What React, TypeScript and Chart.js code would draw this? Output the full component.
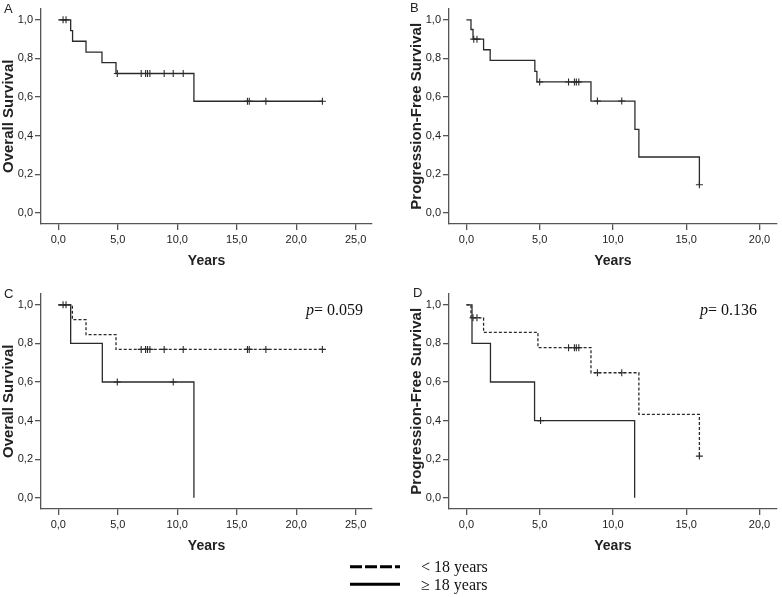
import React, { useEffect, useRef } from "react";
import { Chart, registerables } from "chart.js";
Chart.register(...registerables);

// ---- tick labels ----
const yTicks = [0, 0.2, 0.4, 0.6, 0.8, 1.0];
const xTicksOS = [0, 5, 10, 15, 20, 25];
const xTicksPFS = [0, 5, 10, 15, 20];

// ---- Panel A: overall survival (all patients) ----
const aTimes = [0, 1.04, 1.2, 2.33, 3.67, 4.85, 11.4, 22.2];
const aSurv = [1.0, 0.944, 0.889, 0.833, 0.778, 0.722, 0.578, 0.578];
const aCensor = [0.4, 0.65, 4.96, 6.97, 7.34, 7.5, 7.7, 8.9, 9.66, 10.5, 15.9, 16.05, 17.45, 22.2];

// ---- Panel B: progression-free survival (all patients) ----
const bTimes = [0, 0.31, 0.45, 1.17, 1.62, 4.67, 4.81, 8.5, 11.5, 11.77, 15.9];
const bSurv = [1.0, 0.95, 0.9, 0.845, 0.79, 0.733, 0.678, 0.579, 0.432, 0.289, 0.145];
const bCensor = [0.5, 0.72, 5.0, 6.97, 7.37, 7.5, 7.67, 8.94, 10.6, 15.9];

// ---- Panel C: overall survival by age ----
const cYoungTimes = [0, 1.18, 2.33, 4.85, 22.2];
const cYoungSurv = [1.0, 0.923, 0.846, 0.769, 0.769];
const cYoungCensor = [0.4, 0.65, 6.97, 7.34, 7.5, 7.7, 8.9, 10.5, 15.9, 16.05, 17.45, 22.2];
const cOldTimes = [0, 1.04, 3.7, 11.4];
const cOldSurv = [1.0, 0.8, 0.6, 0.0];
const cOldCensor = [4.96, 9.66];

// ---- Panel D: progression-free survival by age ----
const dYoungTimes = [0, 0.31, 1.17, 4.88, 8.5, 11.77, 15.9];
const dYoungSurv = [1.0, 0.933, 0.857, 0.778, 0.648, 0.432, 0.216];
const dYoungCensor = [0.45, 0.72, 6.97, 7.37, 7.5, 7.67, 8.94, 10.6, 15.9];
const dOldTimes = [0, 0.38, 1.64, 4.65, 11.48];
const dOldSurv = [1.0, 0.8, 0.6, 0.4, 0.0];
const dOldCensor = [5.06];

const legendLabels = ["< 18 years", "\u2265 18 years"];
const pValues = ["0.059", "0.136"];

const SANS = '"Liberation Sans", Arial, sans-serif';
const SERIF = '"Liberation Serif", "Times New Roman", serif';
const INK = "#2a2a2a";
const AXIS = "#555555";

type Curve = { times: number[]; surv: number[]; censor: number[]; dashed: boolean };

function survAt(c: Curve, t: number): number {
  let v = c.surv[0];
  for (let i = 0; i < c.times.length; i++) {
    if (c.times[i] <= t) v = c.surv[i];
  }
  return v;
}

const fmt = (v: number) => Number(v).toFixed(1).replace(".", ",");

type PanelProps = {
  left: number;
  top: number;
  width: number;
  height: number;
  rightPad: number;
  xMin: number;
  xMax: number;
  xTicks: number[];
  yTitle: string;
  curves: Curve[];
};

function Panel(p: PanelProps) {
  const ref = useRef<HTMLCanvasElement>(null);
  useEffect(() => {
    if (!ref.current) return;
    const datasets: any[] = [];
    p.curves.forEach((c) => {
      datasets.push({
        type: "line",
        data: c.times.map((t, i) => ({ x: t, y: c.surv[i] })),
        stepped: "before",
        borderColor: INK,
        borderWidth: 1.3,
        borderDash: c.dashed ? [3, 2] : [],
        pointRadius: 0,
        fill: false,
      });
      datasets.push({
        type: "line",
        showLine: false,
        data: c.censor.map((t) => ({ x: t, y: survAt(c, t) })),
        pointStyle: "cross",
        pointRadius: 3.5,
        pointBorderWidth: 1.1,
        pointBorderColor: INK,
        borderColor: INK,
        backgroundColor: INK,
      });
    });
    const chart = new Chart(ref.current, {
      type: "line",
      data: { datasets },
      options: {
        animation: false,
        responsive: false,
        devicePixelRatio: 1,
        layout: { padding: { top: 8, right: p.rightPad, left: 0, bottom: 0 } },
        plugins: { legend: { display: false }, tooltip: { enabled: false } },
        scales: {
          x: {
            type: "linear",
            min: p.xMin,
            max: p.xMax,
            afterBuildTicks: (a: any) => {
              a.ticks = p.xTicks.map((v) => ({ value: v }));
            },
            afterFit: (a: any) => {
              a.height = p.height - 8 - 216;
            },
            grid: { drawOnChartArea: false, tickLength: 6, color: AXIS, lineWidth: 1.3 },
            border: { color: AXIS, width: 1.3 },
            ticks: {
              callback: (v: any) => fmt(v),
              font: { family: SANS, size: 11 },
              color: "#222",
              padding: 3,
              maxRotation: 0,
              autoSkip: false,
            },
            title: {
              display: true,
              text: "Years",
              font: { family: SANS, size: 14, weight: "bold" },
              color: "#222",
              padding: 0,
            },
          },
          y: {
            type: "linear",
            min: -0.0584,
            max: 1.0584,
            afterBuildTicks: (a: any) => {
              a.ticks = yTicks.map((v) => ({ value: v }));
            },
            afterFit: (a: any) => {
              a.width = 41;
            },
            grid: { drawOnChartArea: false, tickLength: 6, color: AXIS, lineWidth: 1.3 },
            border: { color: AXIS, width: 1.3 },
            ticks: {
              callback: (v: any) => fmt(v),
              font: { family: SANS, size: 11 },
              color: "#222",
              padding: 2,
              autoSkip: false,
            },
            title: {
              display: true,
              text: p.yTitle,
              font: { family: SANS, size: 15, weight: "bold" },
              color: "#222",
              padding: 0,
            },
          },
        },
      } as any,
    });
    return () => chart.destroy();
  }, []);
  return (
    <canvas
      ref={ref}
      width={p.width}
      height={p.height}
      style={{ position: "absolute", left: p.left, top: p.top, width: p.width, height: p.height }}
    />
  );
}

const letterStyle = (left: number, top: number): React.CSSProperties => ({
  position: "absolute",
  left,
  top,
  fontFamily: SANS,
  fontSize: 13,
  lineHeight: "13px",
  color: "#222",
});

const pStyle = (left: number, top: number): React.CSSProperties => ({
  position: "absolute",
  left,
  top,
  fontFamily: SERIF,
  fontSize: 16,
  lineHeight: "16px",
  color: "#111",
  whiteSpace: "nowrap",
});

export default function App() {
  const xOS = { xMin: -1.454, xMax: 26.37, xTicks: xTicksOS };
  const xPFS = { xMin: -1.19, xMax: 21.19, xTicks: xTicksPFS };
  return (
    <div style={{ position: "absolute", left: 0, top: 0, width: 782, height: 597, background: "#fff", overflow: "hidden" }}>
      <Panel left={0} top={0} width={385} height={270} rightPad={13} {...xOS} yTitle="Overall Survival"
        curves={[{ times: aTimes, surv: aSurv, censor: aCensor, dashed: false }]} />
      <Panel left={408} top={0} width={374} height={270} rightPad={1} {...xPFS} yTitle="Progression-Free Survival"
        curves={[{ times: bTimes, surv: bSurv, censor: bCensor, dashed: false }]} />
      <Panel left={0} top={285} width={385} height={270} rightPad={13} {...xOS} yTitle="Overall Survival"
        curves={[
          { times: cOldTimes, surv: cOldSurv, censor: cOldCensor, dashed: false },
          { times: cYoungTimes, surv: cYoungSurv, censor: cYoungCensor, dashed: true },
        ]} />
      <Panel left={408} top={285} width={374} height={270} rightPad={1} {...xPFS} yTitle="Progression-Free Survival"
        curves={[
          { times: dOldTimes, surv: dOldSurv, censor: dOldCensor, dashed: false },
          { times: dYoungTimes, surv: dYoungSurv, censor: dYoungCensor, dashed: true },
        ]} />

      <div style={letterStyle(4, 2)}>A</div>
      <div style={letterStyle(410, 1)}>B</div>
      <div style={letterStyle(4, 287)}>C</div>
      <div style={letterStyle(413, 286)}>D</div>

      <div style={pStyle(306, 302)}><i>p</i>= {pValues[0]}</div>
      <div style={pStyle(700, 302)}><i>p</i>= {pValues[1]}</div>

      <svg style={{ position: "absolute", left: 0, top: 0 }} width={782} height={597}>
        <line x1={350} y1={566.7} x2={400} y2={566.7} stroke="#000" strokeWidth={3} strokeDasharray="12 3" />
        <line x1={350} y1={584.3} x2={400} y2={584.3} stroke="#000" strokeWidth={3} />
      </svg>
      <div style={{ position: "absolute", left: 421, top: 558, fontFamily: SERIF, fontSize: 16, lineHeight: "18px", color: "#111", whiteSpace: "nowrap" }}>{legendLabels[0]}</div>
      <div style={{ position: "absolute", left: 421, top: 576, fontFamily: SERIF, fontSize: 16, lineHeight: "18px", color: "#111", whiteSpace: "nowrap" }}>{legendLabels[1]}</div>
    </div>
  );
}
